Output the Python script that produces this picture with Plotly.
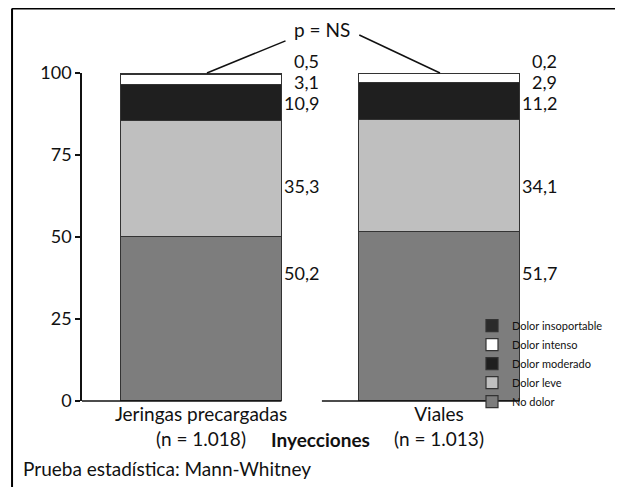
import plotly.graph_objects as go

# ---- data ----
categories = ["Jeringas precargadas<br>(n = 1.018)", "Viales<br>(n = 1.013)"]
series_names = ["No dolor", "Dolor leve", "Dolor moderado", "Dolor intenso", "Dolor insoportable"]
no_dolor = [50.2, 51.7]
dolor_leve = [35.3, 34.1]
dolor_moderado = [10.9, 11.2]
dolor_intenso = [3.1, 2.9]
dolor_insoportable = [0.5, 0.2]
y_ticks = [0, 25, 50, 75, 100]
p_text = "p = NS"
x_title = "Inyecciones"
footnote = "Prueba estadística: Mann-Whitney"

series_values = [no_dolor, dolor_leve, dolor_moderado, dolor_intenso, dolor_insoportable]

# ---- style ----
colors = ["#7d7d7d", "#bfbfbf", "#1f1f1f", "#ffffff", "#2b2b2b"]
FONT = "Lato, 'Open Sans', sans-serif"
LEG_FONT = "'Liberation Sans Narrow', Lato, sans-serif"
FS = 19
BAR_W = 0.676
X_RANGE = [-0.5, 1.71]
Y_RANGE = [0, 100]
# vertical positions (data units) of the value labels, per series
label_y = [39.0, 65.5, 90.8, 97.3, 103.8]


def px(x):
    return (x - X_RANGE[0]) / (X_RANGE[1] - X_RANGE[0])


def py(y):
    return (y - Y_RANGE[0]) / (Y_RANGE[1] - Y_RANGE[0])


fig = go.Figure()
xs = [0, 1]
for name, vals, col in zip(series_names, series_values, colors):
    fig.add_trace(go.Bar(
        x=xs, y=vals, name=name, width=BAR_W,
        marker=dict(color=col, line=dict(color="#333333", width=1.2)),
        hoverinfo="skip",
    ))

annotations = []
for vals, ly in zip(series_values, label_y):
    for i, v in enumerate(vals):
        annotations.append(dict(
            x=xs[i] + 0.505, y=py(ly), xref="x", yref="paper",
            text=f"{v:.1f}".replace(".", ","), showarrow=False,
            xanchor="right", yanchor="middle",
            font=dict(family=FONT, size=FS - 1, color="#111"),
        ))
annotations.append(dict(x=0.508, y=py(113.4), xref="x", yref="paper", text=p_text,
                        showarrow=False, xanchor="center", yanchor="middle",
                        font=dict(family=FONT, size=FS, color="#111")))
annotations.append(dict(x=0.5, y=-0.116, xref="x", yref="paper",
                        text=f"<b>{x_title}</b>", showarrow=False,
                        xanchor="center", yanchor="middle",
                        font=dict(family=FONT, size=FS, color="#111")))
annotations.append(dict(x=-0.116, y=-0.207, xref="paper", yref="paper",
                        text=footnote, showarrow=False,
                        xanchor="left", yanchor="middle",
                        font=dict(family=FONT, size=FS, color="#111")))

shapes = [
    # broken x axis line
    dict(type="line", xref="paper", yref="paper", x0=px(-0.5), x1=px(BAR_W / 2), y0=0, y1=0,
         line=dict(color="#111", width=1.5)),
    dict(type="line", xref="paper", yref="paper", x0=px(0.508), x1=px(1 + BAR_W / 2), y0=0, y1=0,
         line=dict(color="#111", width=1.5)),
    # p = NS connector lines
    dict(type="line", xref="paper", yref="paper", x0=px(0.025), y0=py(100), x1=px(0.355), y1=py(109.8),
         line=dict(color="#111", width=1.5)),
    dict(type="line", xref="paper", yref="paper", x0=px(0.665), y0=py(111.6), x1=px(1.004), y1=py(100),
         line=dict(color="#111", width=1.5)),
    # frame
    dict(type="line", xref="paper", yref="paper", x0=-0.133, x1=-0.133, y0=-0.3, y1=1.1966,
         line=dict(color="#000", width=2)),
    dict(type="line", xref="paper", yref="paper", x0=-0.133, x1=1.0266, y0=1.1966, y1=1.1966,
         line=dict(color="#000", width=2)),
    dict(type="line", xref="paper", yref="paper", x0=1.0266, x1=1.0266, y0=-0.3, y1=1.1966,
         line=dict(color="#888", width=1.5)),
]

fig.update_layout(
    width=615, height=479,
    margin=dict(l=74, r=15, t=65, b=86, pad=0),
    paper_bgcolor="white", plot_bgcolor="white",
    barmode="stack",
    showlegend=True,
    legend=dict(
        x=1.0, y=0.114, xanchor="right", yanchor="middle",
        font=dict(family=LEG_FONT, size=11, color="#111"),
        bgcolor="rgba(0,0,0,0)", tracegroupgap=0, itemclick=False,
    ),
    xaxis=dict(
        range=X_RANGE, tickmode="array", tickvals=xs, ticktext=categories,
        showline=False, showgrid=False, zeroline=False, ticks="",
        tickfont=dict(family=FONT, size=FS, color="#111"),
        fixedrange=True,
    ),
    yaxis=dict(
        range=Y_RANGE, tickvals=y_ticks, showgrid=False, zeroline=False,
        showline=True, linecolor="#111", linewidth=1.5,
        ticks="outside", ticklen=5, tickcolor="#111", tickwidth=1.5,
        tickfont=dict(family=FONT, size=FS - 1, color="#111"),
        fixedrange=True,
    ),
    annotations=annotations,
    shapes=shapes,
)

fig.write_html("out.html", config={"displayModeBar": False})
